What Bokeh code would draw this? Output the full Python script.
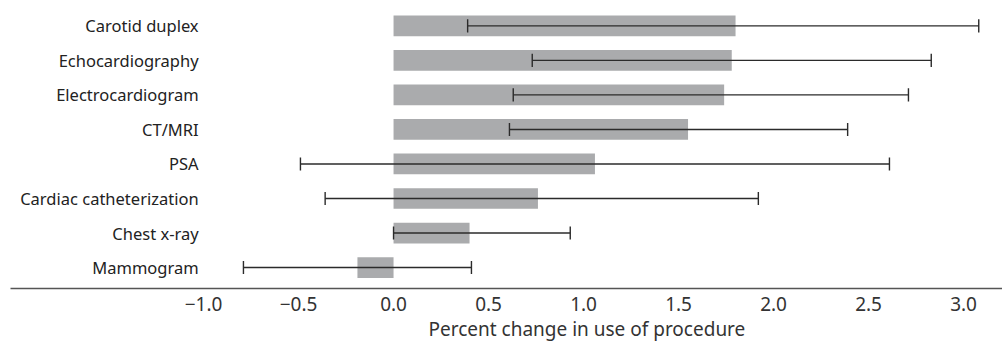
from bokeh.plotting import figure
from bokeh.models import FixedTicker, Title, ColumnDataSource
from bokeh.core.properties import value
from bokeh.embed import file_html
from bokeh.resources import INLINE

# ---- data ----
procedures = ["Mammogram", "Chest x-ray", "Cardiac catheterization", "PSA",
              "CT/MRI", "Electrocardiogram", "Echocardiography", "Carotid duplex"]
change = [-0.19, 0.40, 0.76, 1.06, 1.55, 1.74, 1.78, 1.80]
ci_low = [-0.79, 0.0, -0.36, -0.49, 0.61, 0.63, 0.73, 0.39]
ci_high = [0.41, 0.93, 1.92, 2.61, 2.39, 2.71, 2.83, 3.08]
tick_values = [-1.0, -0.5, 0.0, 0.5, 1.0, 1.5, 2.0, 2.5, 3.0]
tick_labels = ["\u22121.0", "\u22120.5", "0.0", "0.5", "1.0", "1.5", "2.0", "2.5", "3.0"]
x_label = "Percent change in use of procedure"

FONT = "Noto Sans"
rows = list(range(len(procedures)))
cap = 0.19

src = ColumnDataSource(dict(
    y=rows, name=procedures, change=change, lo=ci_low, hi=ci_high,
    cap_lo=[r - cap for r in rows], cap_hi=[r + cap for r in rows],
    lab_x=[-1.026] * len(rows),
))

p = figure(width=1002, height=341, x_range=(-2.016, 3.205), y_range=(-0.607, 7.503),
           output_backend="svg", toolbar_location=None, y_axis_location=None,
           min_border_left=10, min_border_right=0, min_border_top=8, min_border_bottom=0)
p.outline_line_color = None
p.grid.visible = False
p.background_fill_color = "white"
p.border_fill_color = "white"

p.hbar(y="y", left=0, right="change", height=0.6, source=src,
       fill_color="#aaabad", line_color=None)
p.segment(x0="lo", x1="hi", y0="y", y1="y", source=src, line_color="#2b2b2b", line_width=1.4)
p.segment(x0="lo", x1="lo", y0="cap_lo", y1="cap_hi", source=src, line_color="#2b2b2b", line_width=1.4)
p.segment(x0="hi", x1="hi", y0="cap_lo", y1="cap_hi", source=src, line_color="#2b2b2b", line_width=1.4)

p.text(x="lab_x", y="y", text="name", source=src, text_align="right", text_baseline="middle",
       text_font=value(FONT), text_font_size="16.5px", text_color="#222222")

ax = p.xaxis[0]
ax.ticker = FixedTicker(ticks=tick_values)
ax.major_label_overrides = {v: t for v, t in zip(tick_values, tick_labels)}
ax.major_tick_line_color = None
ax.minor_tick_line_color = None
ax.axis_line_color = "#555555"
ax.axis_line_width = 1.6
ax.major_label_text_font = FONT
ax.major_label_text_font_size = "19px"
ax.major_label_text_color = "#333333"
ax.major_label_standoff = 2

p.add_layout(Title(text=x_label, align="left", offset=418, standoff=0,
                   text_font=FONT, text_font_size="19px", text_font_style="normal",
                   text_color="#333333"), "below")

open("out.html", "w").write(file_html(p, INLINE))
